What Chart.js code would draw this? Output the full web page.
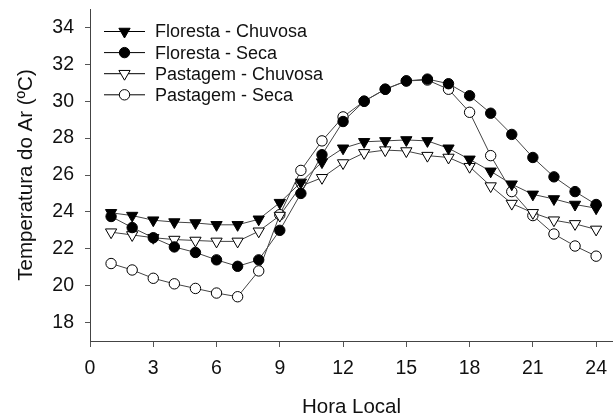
<!DOCTYPE html>
<html>
<head>
<meta charset="utf-8">
<script src="https://cdn.jsdelivr.net/npm/chart.js@4/dist/chart.umd.min.js"></script>
<style>
  html, body { margin: 0; padding: 0; background: #fff; overflow: hidden; }
  canvas { display: block; }
</style>
</head>
<body>
<canvas id="tempChart" width="613" height="420"></canvas>
<script>
// horas e valores
const hours = [1, 2, 3, 4, 5, 6, 7, 8, 9, 10, 11, 12, 13, 14, 15, 16, 17, 18, 19, 20, 21, 22, 23, 24];
const florestaChuvosa = [23.95, 23.8, 23.55, 23.45, 23.4, 23.3, 23.3, 23.6, 24.5, 25.6, 26.7, 27.45, 27.8, 27.85, 27.9, 27.85, 27.45, 26.85, 26.2, 25.5, 24.95, 24.7, 24.4, 24.2];
const florestaSeca = [23.75, 23.15, 22.6, 22.1, 21.8, 21.4, 21.05, 21.4, 23.0, 25.0, 27.1, 28.9, 30.0, 30.65, 31.1, 31.2, 30.95, 30.3, 29.35, 28.2, 26.95, 25.9, 25.1, 24.4];
const pastagemChuvosa = [22.9, 22.75, 22.6, 22.5, 22.45, 22.4, 22.4, 22.95, 23.8, 25.4, 25.85, 26.65, 27.2, 27.35, 27.3, 27.05, 26.95, 26.45, 25.4, 24.45, 23.95, 23.55, 23.35, 23.05];
const pastagemSeca = [21.2, 20.85, 20.4, 20.1, 19.85, 19.6, 19.4, 20.8, 23.85, 26.25, 27.85, 29.15, 30.0, 30.65, 31.1, 31.15, 30.65, 29.4, 27.05, 25.1, 23.8, 22.8, 22.15, 21.6];

const xTicks = [0, 3, 6, 9, 12, 15, 18, 21, 24];
const yTicks = [18, 20, 22, 24, 26, 28, 30, 32, 34];

const toXY = vals => vals.map((v, i) => ({ x: hours[i], y: v }));

function serie(label, vals, style, filled) {
    return {
        label: label,
        data: toXY(vals),
        borderColor: '#444',
        borderWidth: 1,
        pointStyle: style,
        pointRotation: style === 'triangle' ? 180 : 0,
        pointRadius: style === 'triangle' ? 6.5 : 5.2,
        pointHoverRadius: style === 'triangle' ? 6.5 : 5.2,
        pointBackgroundColor: filled ? '#000' : '#fff',
        pointBorderColor: '#000',
        pointBorderWidth: 1,
        tension: 0,
        fill: false,
        clip: false
    };
}

// legenda desenhada dentro da área do gráfico
const insideLegend = {
    id: 'insideLegend',
    afterDraw(chart) {
        const ctx = chart.ctx;
        ctx.save();
        ctx.font = '18px "Liberation Sans", Arial, sans-serif';
        ctx.textBaseline = 'middle';
        chart.data.datasets.forEach((ds, i) => {
            const y = 31.5 + i * 21.1;
            ctx.strokeStyle = '#000';
            ctx.lineWidth = 1;
            ctx.beginPath();
            ctx.moveTo(104, y);
            ctx.lineTo(145, y);
            ctx.stroke();
            ctx.fillStyle = ds.pointBackgroundColor;
            ctx.strokeStyle = '#000';
            Chart.helpers.drawPoint(ctx, {
                pointStyle: ds.pointStyle,
                rotation: ds.pointRotation,
                radius: ds.pointRadius,
                borderWidth: 1
            }, 124.5, y);
            ctx.fillStyle = '#111';
            ctx.fillText(ds.label, 155, y + 1);
        });
        ctx.restore();
    }
};

const tickFont = { family: '"Liberation Sans", Arial, sans-serif', size: 19.5 };
const titleFont = { family: '"Liberation Sans", Arial, sans-serif', size: 20.5 };

new Chart(document.getElementById('tempChart').getContext('2d'), {
    type: 'line',
    data: {
        datasets: [
            serie('Floresta - Chuvosa', florestaChuvosa, 'triangle', true),
            serie('Floresta - Seca', florestaSeca, 'circle', true),
            serie('Pastagem - Chuvosa', pastagemChuvosa, 'triangle', false),
            serie('Pastagem - Seca', pastagemSeca, 'circle', false)
        ]
    },
    options: {
        responsive: false,
        animation: false,
        layout: { autoPadding: false, padding: { top: 9, right: 0, left: 0, bottom: 0 } },
        plugins: {
            legend: { display: false },
            tooltip: { enabled: false }
        },
        scales: {
            x: {
                type: 'linear',
                min: 0,
                max: 24.8,
                afterBuildTicks: s => { s.ticks = xTicks.map(v => ({ value: v })); },
                afterFit: s => { s.height = 79; s.paddingRight = 0; s.paddingLeft = 0; },
                grid: { drawOnChartArea: false, tickLength: 6, color: '#555' },
                border: { color: '#444', width: 1 },
                ticks: { font: tickFont, color: '#111', padding: 10, maxRotation: 0, autoSkip: false },
                title: { display: true, text: 'Hora Local', font: titleFont, color: '#111', padding: { top: 19, bottom: 0 } }
            },
            y: {
                min: 17,
                max: 35,
                afterBuildTicks: s => { s.ticks = yTicks.map(v => ({ value: v })); },
                afterFit: s => { s.width = 90; s.paddingTop = 0; s.paddingBottom = 0; },
                grid: { drawOnChartArea: false, tickLength: 5, color: '#555' },
                border: { color: '#444', width: 1 },
                ticks: { font: tickFont, color: '#111', padding: 11 },
                title: { display: true, text: 'Temperatura do Ar (ºC)', font: titleFont, color: '#111', padding: { top: 14 } }
            }
        }
    },
    plugins: [insideLegend]
});
</script>
</body>
</html>
